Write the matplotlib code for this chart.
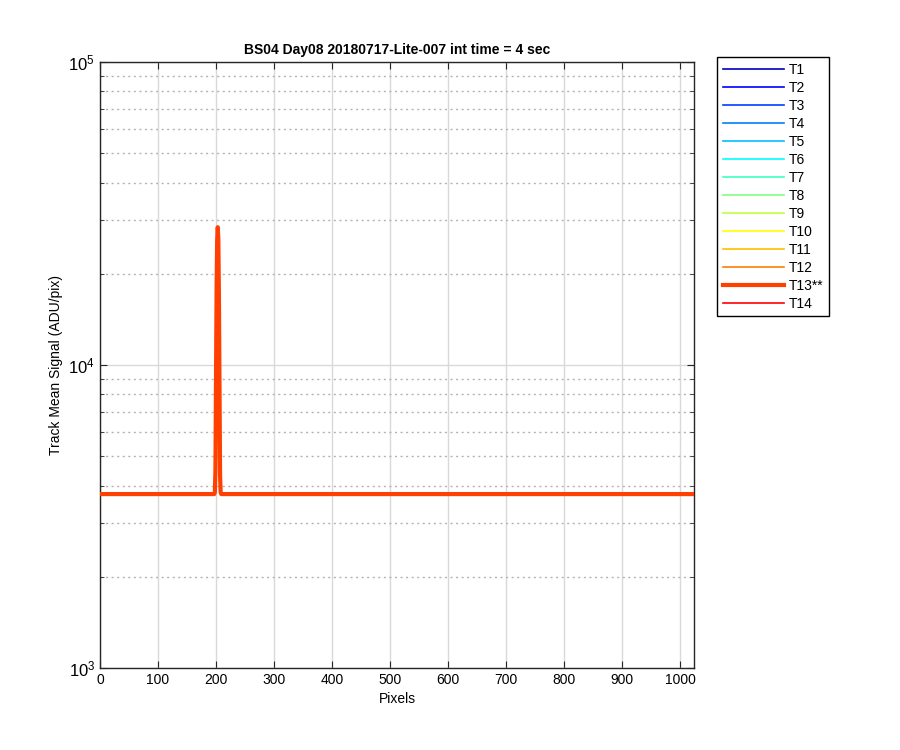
import numpy as np
import matplotlib
matplotlib.use("Agg")
import matplotlib.pyplot as plt
from matplotlib.ticker import LogLocator, NullFormatter

# track profile: flat baseline with one narrow spike
n_pixels = 1024
baseline = 3750
spike_pix = [198, 199, 200, 201, 202, 203, 204, 205, 206, 207, 208]
spike_val = [3800, 4500, 9000, 18000, 26000, 28500, 26000, 17000, 8000, 4300, 3800]

tracks = ["T1", "T2", "T3", "T4", "T5", "T6", "T7", "T8", "T9", "T10",
          "T11", "T12", "T13**", "T14"]
colors = [(0, 0, 0.75), (0, 0, 1), (0, 0.25, 1), (0, 0.5, 1), (0, 0.75, 1),
          (0, 1, 1), (0.25, 1, 0.75), (0.5, 1, 0.5), (0.75, 1, 0.25),
          (1, 1, 0), (1, 0.75, 0), (1, 0.5, 0), (1, 0.25, 0), (1, 0, 0)]
highlight = 12

pix = np.arange(1, n_pixels + 1)
sig = np.full(n_pixels, float(baseline))
sig[np.array(spike_pix) - 1] = spike_val

plt.rcParams['font.family'] = ['Liberation Sans', 'DejaVu Sans']
fig = plt.figure(figsize=(9, 7.5), dpi=100)
ax = fig.add_axes([100 / 900, 82 / 750, 594 / 900, 606 / 750])

handles = []
for i, (name, c) in enumerate(zip(tracks, colors)):
    lw = 3.0 if i == highlight else 1.2
    z = 5 if i == highlight else 2
    h, = ax.plot(pix, sig, color=c, lw=lw, label=name, zorder=z)
    handles.append(h)

ax.set_yscale('log')
ax.set_xlim(0, 1024)
ax.set_ylim(1e3, 1e5)
ax.set_xticks(np.arange(0, 1001, 100))
ax.yaxis.set_minor_locator(LogLocator(base=10, subs=np.arange(2, 10)))
ax.yaxis.set_minor_formatter(NullFormatter())

ax.grid(True, which='major', color=(0.85, 0.85, 0.85), lw=1.0, ls='-')
ax.grid(True, which='minor', axis='y', color=(0.7, 0.7, 0.7), lw=1.0, ls=(0, (1.5, 2.5)))
ax.set_axisbelow(True)

ax.tick_params(which='both', direction='in', top=True, right=True,
               labelsize=10, color=(0.15, 0.15, 0.15))
ax.tick_params(axis='y', labelsize=12)
ax.tick_params(which='major', length=5)
ax.tick_params(which='minor', length=3, top=False)
for s in ax.spines.values():
    s.set_color((0.15, 0.15, 0.15))
    s.set_linewidth(1.0)

ax.set_xlabel('Pixels', fontsize=10)
ax.set_ylabel('Track Mean Signal (ADU/pix)', fontsize=10)
ax.set_title('BS04 Day08 20180717-Lite-007 int time = 4 sec',
             fontsize=10, fontweight='bold')

leg = fig.legend(handles, tracks, loc='upper left',
                 bbox_to_anchor=(717 / 900, 1 - 57 / 750),
                 borderaxespad=0, fontsize=10, handlelength=4.4,
                 labelspacing=0.29, fancybox=False, edgecolor='black',
                 framealpha=1, borderpad=0.4, handletextpad=0.35)
leg.get_frame().set_linewidth(1.0)

fig.savefig('out.png', dpi=100)
